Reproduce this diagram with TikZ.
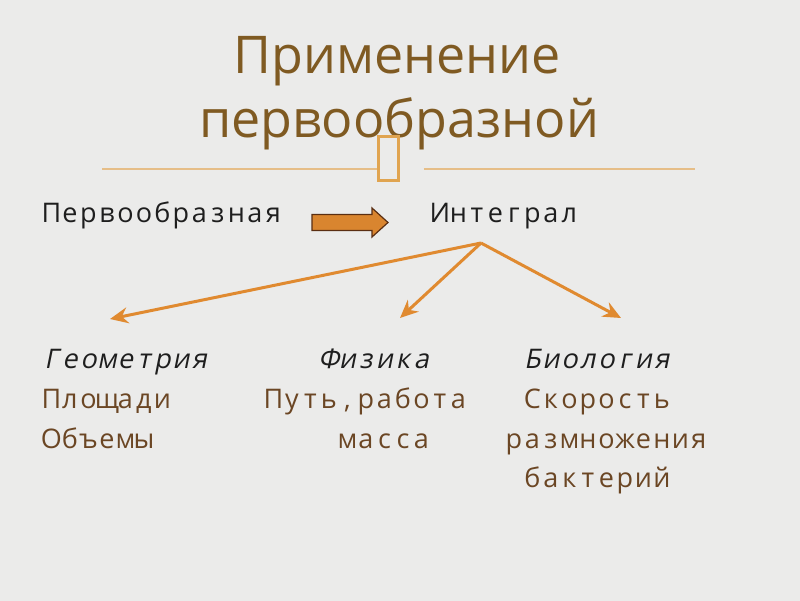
\documentclass[tikz,border=0pt]{standalone}
\usepackage{fontspec}
\setmainfont{Open Sans}
\newfontfamily\oblfont[FakeSlant=0.2]{Open Sans}
\usetikzlibrary{arrows.meta}
\definecolor{bggray}{HTML}{EBEBEA}
\definecolor{bgmid}{HTML}{E5E4D6}
\definecolor{bgyel}{HTML}{D6D3AE}
\definecolor{titlebrown}{HTML}{7F5A22}
\definecolor{itembrown}{HTML}{6B4624}
\definecolor{textdark}{HTML}{1E1E1E}
\definecolor{decoline}{HTML}{E6BE88}
\definecolor{decobox}{HTML}{E0A450}
\definecolor{arroworange}{HTML}{E08A30}
\definecolor{bigfill}{HTML}{D9852F}
\definecolor{bigedge}{HTML}{5A2E12}
\pgfdeclareradialshading{vign}{\pgfpoint{0bp}{0bp}}{color(0bp)=(bggray); color(40bp)=(bggray); color(50bp)=(bgmid); color(72bp)=(bgyel)}
\newlength{\cw}
\setlength{\cw}{18.5pt}
\def\monotext#1{\monoloop#1\relax}
\def\monoloop#1{\ifx#1\relax\else\makebox[\cw][c]{#1}\expandafter\monoloop\fi}
\begin{document}
\begin{tikzpicture}[x=1pt,y=-1pt,
  titletext/.style={font=\fontsize{52}{60}\selectfont, text=titlebrown, anchor=base, inner sep=0pt},
  plaintext/.style={font=\fontsize{27}{30}\selectfont, text=textdark, anchor=base west, inner sep=0pt},
  headtext/.style={font=\oblfont\fontsize{27}{30}\selectfont, text=textdark, anchor=base west, inner sep=0pt},
  itemtext/.style={font=\fontsize{27}{30}\selectfont, text=itembrown, anchor=base west, inner sep=0pt},
  deco/.style={draw=decoline, line width=1.5pt},
  branch/.style={draw=arroworange, line width=3pt, -{Stealth[length=18pt,width=16pt,inset=6pt]}}
]
\useasboundingbox (0,0) rectangle (800,600);
\shade[shading=vign] (0,0) rectangle (800,600);

% title
\node[titletext] (t1) at (397,73) {Применение};
\node[titletext] (t2) at (399,137) {первообразной};

% decoration
\node[draw=decobox, line width=2.5pt, minimum width=20pt, minimum height=44pt, inner sep=0pt] (dbox) at (388.5,158.5) {};
\coordinate (dl) at (102,169);
\coordinate (dr) at (695,169);
\draw[deco] (dl) -- (dl -| dbox.west);
\draw[deco] (dr -| dbox.east) ++(24,0) -- (dr);

% first row
\node[plaintext] (perv) at (42,222) {\monotext{Первообразная}};
\node[plaintext] (integ) at (430.5,222) {\monotext{Интеграл}};
\draw[fill=bigfill, draw=bigedge, line width=1.2pt, line join=miter]
  (312,214.5) -- (372,214.5) -- (372,208) -- (388,222.5) -- (372,237) -- (372,230.5) -- (312,230.5) -- cycle;

% branches
\coordinate (apex) at (481,243);
\coordinate (tipL) at (110,319);
\coordinate (tipM) at (400,318);
\coordinate (tipR) at (621,318);
\draw[branch] (apex) -- (tipL);
\draw[branch] (apex) -- (tipM);
\draw[branch] (apex) -- (tipR);

% columns
\node[headtext] (geo) at (42,368) {\monotext{Геометрия}};
\node[headtext] (fiz) at (319.5,368) {\monotext{Физика}};
\node[headtext] (bio) at (523,368) {\monotext{Биология}};

\node[itemtext] (pl) at (42,408) {\monotext{Площади}};
\node[itemtext] (put) at (264,408) {\monotext{Путь,работа}};
\node[itemtext] (sk) at (523,408) {\monotext{Скорость}};

\node[itemtext] (ob) at (42,448) {\monotext{Объемы}};
\node[itemtext] (ma) at (338,448) {\monotext{масса}};
\node[itemtext] (ra) at (504.5,448) {\monotext{размножения}};

\node[itemtext] (ba) at (523,487) {\monotext{бактерий}};
\end{tikzpicture}
\end{document}
